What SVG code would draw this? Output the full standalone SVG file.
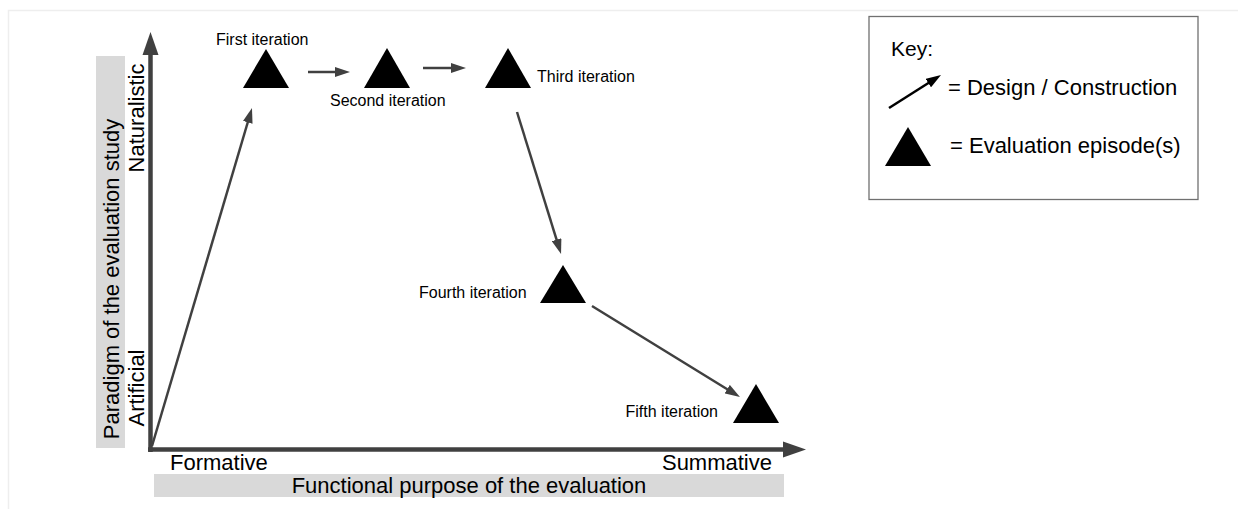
<svg xmlns="http://www.w3.org/2000/svg" width="1238" height="509" viewBox="0 0 1238 509">
  <style>
    .lbl { font-family: "Liberation Sans", Arial, sans-serif; fill: #000; }
    .big { font-size: 22px; }
    .small { font-size: 16px; }
    .band { fill: #d9d9d9; }
    .axis { stroke: #404040; stroke-width: 4.5; fill: none; }
    .axis-head { fill: #404040; }
    .conn { stroke: #404040; stroke-width: 2.5; fill: none; marker-end: url(#head); }
    .tri { fill: #000; }
  </style>
  <defs>
    <marker id="head" markerUnits="userSpaceOnUse" markerWidth="15" markerHeight="10" refX="2" refY="5" orient="auto">
      <path d="M0,0 L15,5 L0,10 z" fill="#404040"/>
    </marker>
    <marker id="head-black" markerUnits="userSpaceOnUse" markerWidth="15" markerHeight="10" refX="2" refY="5" orient="auto">
      <path d="M0,0 L15,5 L0,10 z" fill="#000"/>
    </marker>
  </defs>

  <rect width="1238" height="509" fill="#fff"/>
  <!-- faint page frame -->
  <path d="M8.5,509 V10.5 H1238" stroke="#eeeeee" stroke-width="1.5" fill="none"/>

  <!-- axis title bands -->
  <g id="y-axis-title">
    <rect class="band" x="96" y="56" width="29" height="392"/>
    <text class="lbl big" transform="translate(119,279) rotate(-90)" text-anchor="middle">Paradigm of the evaluation study</text>
  </g>
  <g id="x-axis-title">
    <rect class="band" x="154" y="474" width="630" height="23"/>
    <text class="lbl big" x="469" y="493" text-anchor="middle">Functional purpose of the evaluation</text>
  </g>

  <!-- axes -->
  <g id="axes">
    <line class="axis" x1="150.5" y1="452" x2="150.5" y2="54"/>
    <polygon class="axis-head" points="150.5,32 142.5,55 158.5,55"/>
    <line class="axis" x1="148" y1="449.5" x2="784" y2="449.5"/>
    <polygon class="axis-head" points="806,449.5 783,441.5 783,457.5"/>
    <text class="lbl big" transform="translate(144,118) rotate(-90)" text-anchor="middle">Naturalistic</text>
    <text class="lbl big" transform="translate(144,388) rotate(-90)" text-anchor="middle">Artificial</text>
    <text class="lbl big" x="170" y="470">Formative</text>
    <text class="lbl big" x="772" y="470" text-anchor="end">Summative</text>
  </g>

  <!-- design / construction steps -->
  <g id="connectors">
    <line class="conn" x1="152" y1="446" x2="248.3" y2="120.5"/>
    <line class="conn" x1="308" y1="72" x2="337" y2="72"/>
    <line class="conn" x1="423" y1="68" x2="453" y2="68"/>
    <line class="conn" x1="517" y1="112" x2="557.2" y2="241.6"/>
    <line class="conn" x1="592" y1="306" x2="728.9" y2="390.2"/>
  </g>

  <!-- evaluation episodes -->
  <g id="first-iteration">
    <polygon class="tri" points="266,49 243,88 289,88"/>
    <text class="lbl small" x="216" y="45">First iteration</text>
  </g>
  <g id="second-iteration">
    <polygon class="tri" points="387,48 364,88 410,88"/>
    <text class="lbl small" x="330" y="106">Second iteration</text>
  </g>
  <g id="third-iteration">
    <polygon class="tri" points="508,48 485,88 531,88"/>
    <text class="lbl small" x="537" y="82">Third iteration</text>
  </g>
  <g id="fourth-iteration">
    <polygon class="tri" points="563,265 540,303 586,303"/>
    <text class="lbl small" x="419" y="298">Fourth iteration</text>
  </g>
  <g id="fifth-iteration">
    <polygon class="tri" points="756,384 733,423 779,423"/>
    <text class="lbl small" x="718" y="417" text-anchor="end">Fifth iteration</text>
  </g>

  <!-- legend -->
  <g id="key">
    <rect x="869" y="16.5" width="329" height="183" fill="#fff" stroke="#707070" stroke-width="1.3"/>
    <text class="lbl" font-size="21" x="891" y="56">Key:</text>
    <line x1="889" y1="108" x2="930" y2="82" stroke="#000" stroke-width="2.5" marker-end="url(#head-black)"/>
    <text class="lbl big" x="948" y="95">= Design / Construction</text>
    <polygon class="tri" points="908,127 885,166 931,166"/>
    <text class="lbl big" x="950" y="153">= Evaluation episode(s)</text>
  </g>
</svg>
